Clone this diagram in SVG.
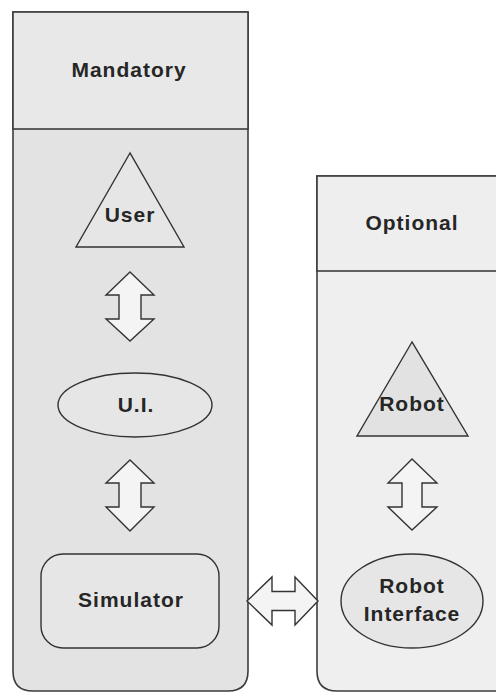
<svg xmlns="http://www.w3.org/2000/svg" width="496" height="693" viewBox="0 0 496 693">
  <defs>
    <style>
      .panel { stroke: #3c3c3c; stroke-width: 1.6; }
      .node { fill: #e6e6e6; stroke: #333; stroke-width: 1.4; }
      .lbl { font-family: "Liberation Sans", Arial, sans-serif; font-weight: bold; font-size: 21px; letter-spacing: 1px; fill: #262626; text-anchor: middle; }
      .arrow { fill: #f4f4f4; stroke: #333; stroke-width: 1.4; stroke-linejoin: miter; }
      .shadow { fill: none; stroke: #8a8a8a; stroke-width: 1.4; }
    </style>
  </defs>
  <rect width="496" height="693" fill="#fff"/>

  <!-- Mandatory swimlane -->
  <g id="lane-mandatory">
    <path class="panel" fill="#e3e3e3" d="M13,12 H248 V671 Q248,691 228,691 H33 Q13,691 13,671 Z"/>
    <rect class="panel" x="13" y="12" width="235" height="117" fill="#e8e8e8"/>
    <text class="lbl" x="129" y="77">Mandatory</text>
  </g>

  <!-- Optional swimlane -->
  <g id="lane-optional">
    <path class="panel" fill="#efefef" d="M317,176 H510 V691 H337 Q317,691 317,671 Z"/>
    <rect class="panel" x="317" y="176" width="193" height="95" fill="#eeeeee"/>
    <text class="lbl" x="412" y="230">Optional</text>
  </g>

  <g id="user">
    <polygon class="node" points="130,153 76,247 184,247"/>
    <text class="lbl" x="130" y="222">User</text>
  </g>

  <g id="ui">
    <ellipse class="node" cx="135" cy="405" rx="77" ry="32"/>
    <text class="lbl" x="136" y="412">U.I.</text>
  </g>

  <g id="simulator">
    <rect class="node" x="41" y="554" width="178" height="94" rx="22" ry="22"/>
    <text class="lbl" x="131" y="607">Simulator</text>
  </g>

  <g id="robot">
    <polygon class="node" fill="#e2e2e2" points="412,342 357,436 468,436" style="fill:#e2e2e2"/>
    <text class="lbl" x="412" y="411">Robot</text>
  </g>

  <g id="robot-interface">
    <ellipse class="node" cx="412" cy="601" rx="71" ry="47"/>
    <text class="lbl" x="412" y="593">Robot</text>
    <text class="lbl" x="412" y="621">Interface</text>
  </g>

  <!-- Bidirectional block arrows -->
  <g id="connectors">
    <!-- User <-> U.I. -->
    <path class="shadow" d="M119,296 V319" transform="translate(1.5,0)"/>
    <path class="arrow" d="M130,272 L154,295 L141,295 L141,319 L154,319 L130,341 L106,319 L119,319 L119,295 L106,295 Z"/>
    <!-- U.I. <-> Simulator -->
    <path class="shadow" d="M119,484 V507" transform="translate(1.5,0)"/>
    <path class="arrow" d="M130,460 L154,483 L141,483 L141,507 L154,507 L130,531 L106,507 L119,507 L119,483 L106,483 Z"/>
    <!-- Robot <-> Robot Interface -->
    <path class="shadow" d="M403,484 V507" transform="translate(1.5,0)"/>
    <path class="arrow" d="M412,459 L437,483 L422,483 L422,507 L437,507 L412,530 L388,507 L402,507 L402,483 L388,483 Z"/>
    <!-- Simulator <-> Robot Interface -->
    <path class="shadow" d="M272,592.5 H295" transform="translate(0,1.5)"/>
    <path class="arrow" d="M247,601 L272,577 L272,591.5 L295,591.5 L295,577 L318,601 L295,625 L295,610.5 L272,610.5 L272,625 Z"/>
  </g>
</svg>
